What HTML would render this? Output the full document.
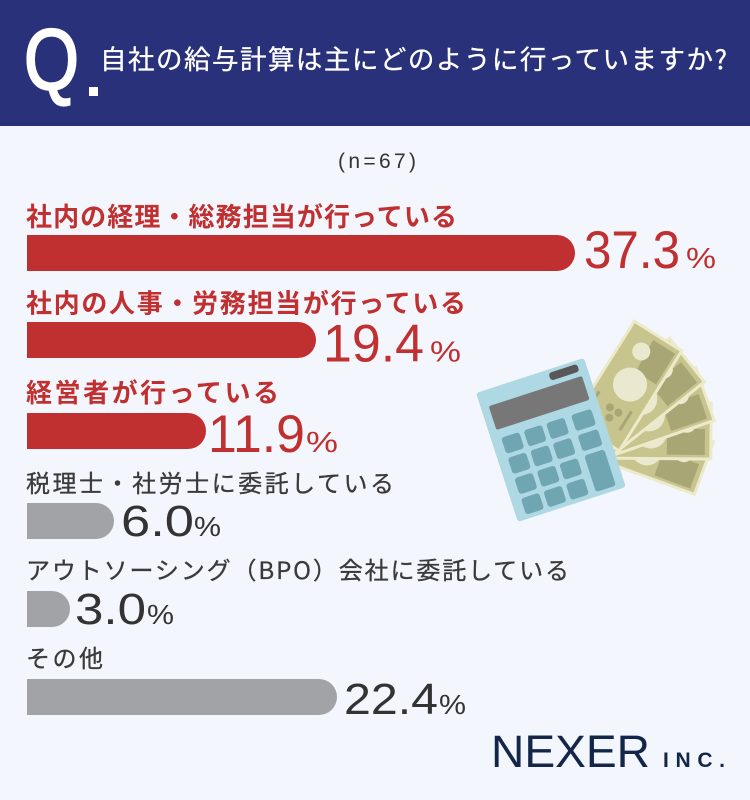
<!DOCTYPE html>
<html>
<head>
<meta charset="utf-8">
<style>
html,body{margin:0;padding:0;background:#f3f6fd;}
svg{display:block;}
text{font-family:"Liberation Sans","Noto Sans CJK JP",sans-serif;}
.jp{font-family:"Noto Sans CJK JP","Liberation Sans",sans-serif;}
</style>
</head>
<body>
<svg width="750" height="800" viewBox="0 0 750 800" xmlns="http://www.w3.org/2000/svg">
  <rect x="0" y="0" width="750" height="800" fill="#f3f6fd"/>
  <!-- header -->
  <rect x="0" y="0" width="750" height="126" fill="#29317a"/>
  <text x="24" y="89" font-size="86" fill="#ffffff" stroke="#ffffff" stroke-width="2.2" textLength="55" lengthAdjust="spacingAndGlyphs">Q</text>
  <rect x="89" y="87" width="9" height="9" fill="#ffffff"/>
  <text class="jp" x="100" y="69" font-size="26.5" fill="#ffffff" stroke="#ffffff" stroke-width="0.3" textLength="627" lengthAdjust="spacing">自社の給与計算は主にどのように行っていますか?</text>

  <text x="338" y="168" font-size="21" fill="#333333" textLength="78" lengthAdjust="spacing">(n=67)</text>

  <!-- illustration: bills -->
  <g>
    <g transform="translate(704,468) rotate(20)">
      <rect x="-118" y="-28" width="118" height="56" fill="#c7c48d" stroke="#eceacb" stroke-width="3"/>
      <polygon points="-44,-2 -6,-2 -6,24 -44,24" fill="#a9a676"/>
      <circle cx="-24" cy="-7" r="9" fill="#eae9cf"/>
      <circle cx="-60" cy="2" r="16" fill="#eae9cf"/>
    </g>
    <g transform="translate(711,431) rotate(0.5)">
      <rect x="-118" y="-28" width="118" height="56" fill="#c7c48d" stroke="#eceacb" stroke-width="3"/>
      <polygon points="-44,-2 -6,-2 -6,24 -44,24" fill="#a9a676"/>
      <circle cx="-24" cy="-7" r="9" fill="#eae9cf"/>
      <circle cx="-60" cy="2" r="16" fill="#eae9cf"/>
    </g>
    <g transform="translate(705,394) rotate(-19)">
      <rect x="-118" y="-28" width="118" height="56" fill="#c7c48d" stroke="#eceacb" stroke-width="3"/>
      <polygon points="-44,-2 -6,-2 -6,24 -44,24" fill="#a9a676"/>
      <circle cx="-24" cy="-7" r="9" fill="#eae9cf"/>
      <circle cx="-60" cy="2" r="16" fill="#eae9cf"/>
    </g>
    <g transform="translate(687,360) rotate(-38.5)">
      <rect x="-118" y="-28" width="118" height="56" fill="#c7c48d" stroke="#eceacb" stroke-width="3"/>
      <polygon points="-44,-2 -6,-2 -6,24 -44,24" fill="#a9a676"/>
      <circle cx="-24" cy="-7" r="9" fill="#eae9cf"/>
      <circle cx="-60" cy="2" r="16" fill="#eae9cf"/>
    </g>
    <g transform="translate(658,336) rotate(-58)">
      <rect x="-118" y="-28" width="118" height="56" fill="#c7c48d" stroke="#eceacb" stroke-width="3"/>
      <polygon points="-42,0 -6,-2 -6,24 -42,24" fill="#a9a676"/>
      <circle cx="-22" cy="-6" r="9" fill="#eae9cf"/>
      <circle cx="-56" cy="2" r="17" fill="#eae9cf"/>
      <circle cx="-86" cy="-3" r="4" fill="#a9a676"/>
      <circle cx="-86" cy="7" r="4" fill="#a9a676"/>
      <circle cx="-95" cy="2" r="4" fill="#a9a676"/>
      <rect x="-100" y="-22" width="22" height="3" fill="#a9a676"/>
      <rect x="-100" y="16" width="22" height="3" fill="#a9a676"/>
    </g>
  </g>
  <!-- calculator -->
  <g transform="translate(476,393) rotate(-18)">
    <rect x="0" y="0" width="113.5" height="135.6" rx="3" fill="#aed8e4"/>
    <rect x="75" y="3.5" width="30" height="8" rx="3" fill="#585858"/>
    <rect x="8" y="16.5" width="98" height="25" rx="2" fill="#777777"/>
    <g fill="#6fa6b1">
      <rect x="10" y="50.4" width="19" height="17" rx="3"/>
      <rect x="33.6" y="50.4" width="19" height="17" rx="3"/>
      <rect x="57.2" y="50.4" width="19" height="17" rx="3"/>
      <rect x="10" y="71.7" width="19" height="17" rx="3"/>
      <rect x="33.6" y="71.7" width="19" height="17" rx="3"/>
      <rect x="57.2" y="71.7" width="19" height="17" rx="3"/>
      <rect x="10" y="93" width="19" height="17" rx="3"/>
      <rect x="33.6" y="93" width="19" height="17" rx="3"/>
      <rect x="57.2" y="93" width="19" height="17" rx="3"/>
      <rect x="10" y="114.3" width="19" height="17" rx="3"/>
      <rect x="33.6" y="114.3" width="19" height="17" rx="3"/>
      <rect x="57.2" y="114.3" width="19" height="17" rx="3"/>
      <rect x="83.5" y="50.4" width="21" height="17" rx="3"/>
      <rect x="83.5" y="71.7" width="21" height="17" rx="3"/>
      <rect x="83.5" y="93" width="21" height="38.3" rx="3"/>
    </g>
  </g>

  <!-- row 1 -->
  <text class="jp" x="26" y="226" font-size="26" font-weight="700" fill="#c03030" textLength="431" lengthAdjust="spacing">社内の経理・総務担当が行っている</text>
  <path d="M27,235 H557 A18,18 0 0 1 557,271 H27 Z" fill="#c03030"/>
  <text x="584" y="268" font-size="53" fill="#c03030" textLength="96" lengthAdjust="spacingAndGlyphs">37.3</text>
  <text x="686" y="268" font-size="29" fill="#c03030" textLength="30" lengthAdjust="spacingAndGlyphs">%</text>

  <!-- row 2 -->
  <text class="jp" x="26" y="312.5" font-size="26" font-weight="700" fill="#c03030" textLength="440" lengthAdjust="spacing">社内の人事・労務担当が行っている</text>
  <path d="M27,322 H298 A18,18 0 0 1 298,358 H27 Z" fill="#c03030"/>
  <text x="323" y="361.5" font-size="53" fill="#c03030" textLength="101" lengthAdjust="spacingAndGlyphs">19.4</text>
  <text x="430" y="361.5" font-size="29" fill="#c03030" textLength="31" lengthAdjust="spacingAndGlyphs">%</text>

  <!-- row 3 -->
  <text class="jp" x="26" y="402" font-size="26" font-weight="700" fill="#c03030" textLength="253" lengthAdjust="spacing">経営者が行っている</text>
  <path d="M27,413 H188 A18,18 0 0 1 188,449 H27 Z" fill="#c03030"/>
  <text x="208" y="452" font-size="53" fill="#c03030" textLength="97" lengthAdjust="spacingAndGlyphs">11.9</text>
  <text x="306" y="452" font-size="29" fill="#c03030" textLength="32" lengthAdjust="spacingAndGlyphs">%</text>

  <!-- row 4 -->
  <text class="jp" x="26" y="492" font-size="24" fill="#3a3a3a" stroke="#3a3a3a" stroke-width="0.3" textLength="368" lengthAdjust="spacing">税理士・社労士に委託している</text>
  <path d="M27,503 H96 A18,18 0 0 1 96,539 H27 Z" fill="#a2a3a7"/>
  <text x="121" y="536" font-size="44" fill="#333333" textLength="73" lengthAdjust="spacingAndGlyphs">6.0</text>
  <text x="194" y="536" font-size="28" fill="#333333" textLength="27" lengthAdjust="spacingAndGlyphs">%</text>

  <!-- row 5 -->
  <text class="jp" x="26" y="579" font-size="24" fill="#3a3a3a" stroke="#3a3a3a" stroke-width="0.3" textLength="543" lengthAdjust="spacing">アウトソーシング（BPO）会社に委託している</text>
  <path d="M27,591 H52 A18,18 0 0 1 52,627 H27 Z" fill="#a2a3a7"/>
  <text x="75" y="624" font-size="44" fill="#333333" textLength="71" lengthAdjust="spacingAndGlyphs">3.0</text>
  <text x="147" y="624" font-size="28" fill="#333333" textLength="27" lengthAdjust="spacingAndGlyphs">%</text>

  <!-- row 6 -->
  <text class="jp" x="26" y="667" font-size="24" fill="#3a3a3a" stroke="#3a3a3a" stroke-width="0.3" textLength="77" lengthAdjust="spacing">その他</text>
  <path d="M27,679 H319 A18,18 0 0 1 319,715 H27 Z" fill="#a2a3a7"/>
  <text x="344" y="714" font-size="44" fill="#333333" textLength="94" lengthAdjust="spacingAndGlyphs">22.4</text>
  <text x="439" y="714" font-size="28" fill="#333333" textLength="27" lengthAdjust="spacingAndGlyphs">%</text>

  <!-- logo -->
  <text x="491" y="767" font-size="45" fill="#13264a" textLength="159" lengthAdjust="spacingAndGlyphs">NEXER</text>
  <text x="663" y="767" font-size="21" font-weight="700" fill="#13264a" textLength="62" lengthAdjust="spacing">INC.</text>
</svg>
</body>
</html>
